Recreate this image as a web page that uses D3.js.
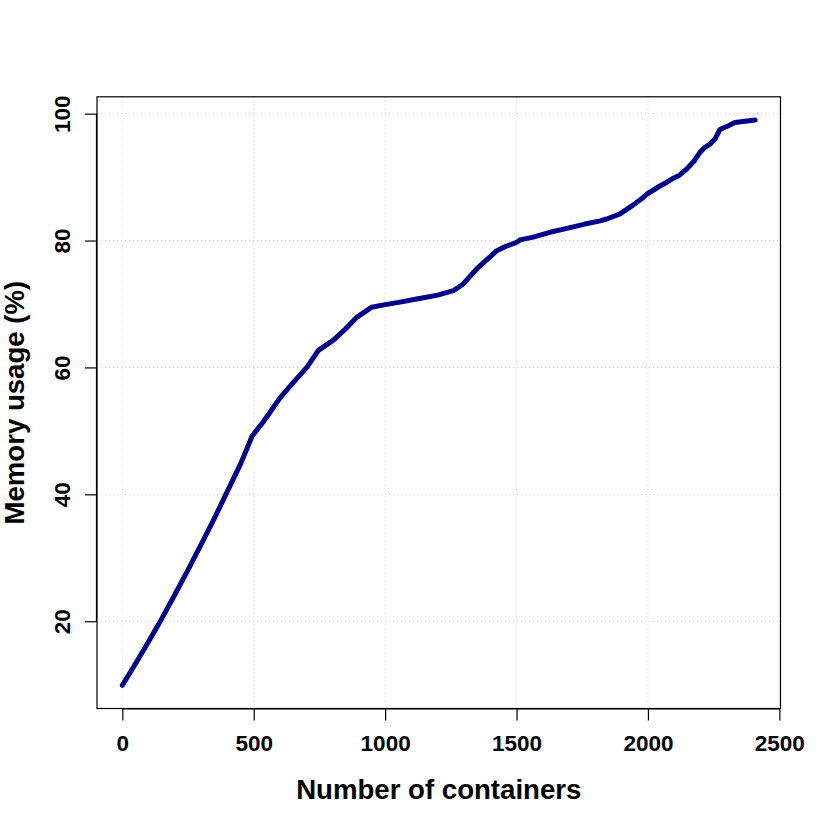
<!DOCTYPE html>
<html>
<head>
<meta charset="utf-8">
<script src="https://cdn.jsdelivr.net/npm/d3@7"></script>
<style>
html,body{margin:0;padding:0;background:#fff;}
svg{display:block;}
text{font-family:"Liberation Sans",Arial,Helvetica,sans-serif;font-weight:bold;fill:#000;}
</style>
</head>
<body>
<svg id="chart" width="830" height="830"></svg>
<script>
// Data
const containers = [0, 50, 100, 150, 200, 250, 300, 350, 400, 450, 494,
  536, 600, 650, 702, 746, 803, 850, 892, 949, 1000, 1057, 1120, 1200, 1260, 1298,
  1350, 1425, 1460, 1500, 1513, 1560, 1627, 1700, 1760, 1818, 1843, 1894, 1940, 1982, 1995,
  2046, 2072, 2091, 2120, 2148, 2175, 2198, 2217, 2236, 2255, 2274, 2306, 2331, 2370, 2408];
const memoryUsage = [9.9, 13.3, 16.8, 20.4, 24.2, 28.1, 32.1, 36.2, 40.5, 44.8, 49.2,
  51.4, 55.2, 57.6, 60.0, 62.7, 64.3, 66.1, 67.9, 69.5, 69.9, 70.3, 70.8, 71.4, 72.1, 73.2,
  75.6, 78.4, 79.1, 79.7, 80.1, 80.5, 81.3, 82.0, 82.6, 83.1, 83.4, 84.2, 85.5, 86.8, 87.3,
  88.6, 89.2, 89.7, 90.3, 91.3, 92.5, 93.9, 94.7, 95.2, 96.0, 97.5, 98.1, 98.6, 98.8, 99.0];
const xTicks = [0, 500, 1000, 1500, 2000, 2500];
const yTicks = [20, 40, 60, 80, 100];
const xLabel = "Number of containers";
const yLabel = "Memory usage (%)";

(function () {
const svg = d3.select("#chart");
const pLeft = 97, pRight = 780.5, pTop = 96.8, pBottom = 708.5;

const x = d3.scaleLinear().domain([-96.4, 2504.4]).range([pLeft, pRight]);
const y = d3.scaleLinear().domain([6.24, 102.66]).range([pBottom, pTop]);

// grid
const grid = svg.append("g");
grid.selectAll("line.gx").data(xTicks).join("line")
  .attr("x1", d => x(d)).attr("x2", d => x(d))
  .attr("y1", pTop).attr("y2", pBottom)
  .attr("stroke", "#d3d3d3").attr("stroke-width", 1).attr("stroke-dasharray", "1,3");
grid.selectAll("line.gy").data(yTicks).join("line")
  .attr("x1", pLeft).attr("x2", pRight)
  .attr("y1", d => y(d)).attr("y2", d => y(d))
  .attr("stroke", "#d3d3d3").attr("stroke-width", 1).attr("stroke-dasharray", "1,3");

// line
const pts = containers.map((c, i) => [c, memoryUsage[i]]);
svg.append("path")
  .datum(pts)
  .attr("fill", "none")
  .attr("stroke", "#00008B")
  .attr("stroke-width", 5)
  .attr("stroke-linejoin", "round")
  .attr("stroke-linecap", "round")
  .attr("d", d3.line().x(d => x(d[0])).y(d => y(d[1])));

// box
svg.append("rect")
  .attr("x", pLeft).attr("y", pTop)
  .attr("width", pRight - pLeft).attr("height", pBottom - pTop)
  .attr("fill", "none").attr("stroke", "#000").attr("stroke-width", 1.2);

// x axis
const xAxis = d3.axisBottom(x).tickValues(xTicks).tickSize(12).tickPadding(15).tickFormat(d3.format("d"));
const gx = svg.append("g").attr("transform", `translate(0,${pBottom})`).call(xAxis);
gx.select(".domain").attr("d", `M${x(0)},0.5H${x(2500)}`).attr("stroke", "#000").attr("stroke-width", 1.2);
gx.selectAll(".tick line").attr("stroke", "#000").attr("stroke-width", 1.2);
gx.selectAll(".tick text").style("font-size", "22.5px").style("font-family", "Liberation Sans, Arial, sans-serif").style("font-weight", "bold").attr("fill", "#000");

// y axis
const yAxis = d3.axisLeft(y).tickValues(yTicks).tickSize(12).tickPadding(10).tickFormat(d3.format("d"));
const gy = svg.append("g").attr("transform", `translate(${pLeft},0)`).call(yAxis);
gy.select(".domain").attr("d", `M-0.5,${y(20)}V${y(100)}`).attr("stroke", "#000").attr("stroke-width", 1.2);
gy.selectAll(".tick line").attr("stroke", "#000").attr("stroke-width", 1.2);
gy.selectAll(".tick text")
  .style("font-size", "22.5px").style("font-family", "Liberation Sans, Arial, sans-serif").style("font-weight", "bold").attr("fill", "#000")
  .attr("text-anchor", "middle")
  .attr("x", null).attr("dy", null)
  .attr("transform", "translate(-27,0) rotate(-90)");

// titles
svg.append("text")
  .attr("x", (pLeft + pRight) / 2).attr("y", 799.3)
  .attr("text-anchor", "middle")
  .style("font-size", "27.6px")
  .text(xLabel);
svg.append("text")
  .attr("transform", `translate(24,${(pTop + pBottom) / 2}) rotate(-90)`)
  .attr("text-anchor", "middle")
  .style("font-size", "27.6px")
  .text(yLabel);
})();
</script>
</body>
</html>
